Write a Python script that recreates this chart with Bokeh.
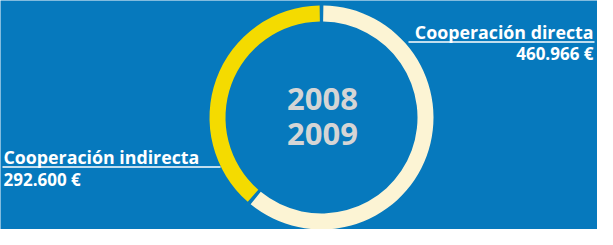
import numpy as np
from bokeh.plotting import figure
from bokeh.models import Range1d
from bokeh.core.properties import value
from bokeh.embed import file_html
from bokeh.resources import INLINE

# ---- data ----
categories = ["Cooperación directa", "Cooperación indirecta"]
amounts = [460966, 292600]
amount_labels = ["460.966 €", "292.600 €"]
colors = ["#FCF4D4", "#F4DB00"]
center_lines = ["2008", "2009"]

BG = "#0679BD"
W, H = 597, 229

p = figure(width=W, height=H, output_backend="svg", toolbar_location=None,
           x_range=Range1d(8, 8 + W), y_range=Range1d(8, 8 + H),
           min_border=0)
p.axis.visible = False
p.grid.visible = False
p.outline_line_color = None
p.background_fill_color = BG
p.border_fill_color = BG

cx, cy = 329, 245 - 125
r_in, r_out = 96, 112
gap = 3.5 / 104.0  # radians

total = float(sum(amounts))
order = [1, 0]
start = np.pi / 2
for i in order:
    span = 2 * np.pi * amounts[i] / total
    p.annular_wedge(x=cx, y=cy, inner_radius=r_in, outer_radius=r_out,
                    start_angle=start + gap / 2, end_angle=start + span - gap / 2,
                    direction="anticlock", fill_color=colors[i], line_color=None)
    start += span


def label(x, y_px, txt, size, bold, align, color="white"):
    # compensate baseline shift observed in svg rendering
    y = 245 - y_px + 0.33 * size
    p.text(x=[x], y=[y], text=[txt], text_align=align,
           text_baseline="alphabetic", text_font=value("Open Sans"),
           text_font_style="bold" if bold else "normal",
           text_font_size=f"{size}px", text_color=color)


# center text
label(330, 117, center_lines[0], 31, True, "center", "#D5D5D5")
label(330, 152, center_lines[1], 31, True, "center", "#D5D5D5")

# right label
label(601, 45, categories[0], 17.8, True, "right")
label(601, 67, amount_labels[0], 17, True, "right")
p.line(x=[416, 602], y=[245 - 49.5, 245 - 49.5], line_color="white", line_width=1.5)

# left label
label(11, 170, categories[1], 17.8, True, "left")
label(11, 193, amount_labels[1], 17, True, "left")
p.line(x=[10, 228], y=[245 - 174.5, 245 - 174.5], line_color="white", line_width=1.5)

open("out.html", "w").write(file_html(p, INLINE))
